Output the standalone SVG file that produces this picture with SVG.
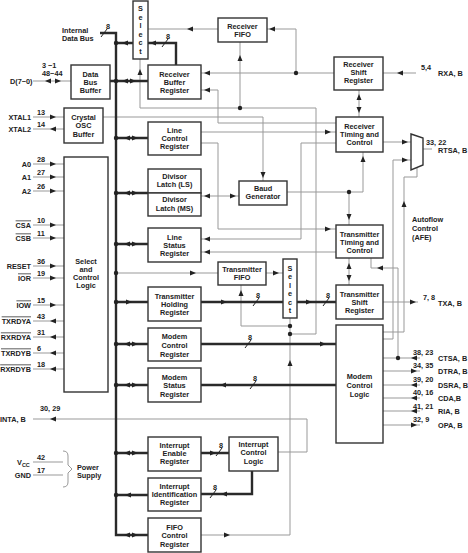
<svg xmlns="http://www.w3.org/2000/svg" width="468" height="553" viewBox="0 0 468 553">
<style>
text{font-family:"Liberation Sans",Arial,sans-serif;font-size:7.3px;font-weight:bold;fill:#222}
.c{text-anchor:middle}
.e{text-anchor:end}
.ol{text-decoration:overline}
.sm{font-size:5.5px}
.box{fill:#fff;stroke:#333;stroke-width:1.4}
.th{fill:none;stroke:#2a2a2a;stroke-width:2.4}
.tn{fill:none;stroke:#999;stroke-width:1}
.sl{fill:none;stroke:#222;stroke-width:1}
.ah{fill:#222}
</style>
<defs>
<polygon id="ar" points="-3,-2.5 3,0 -3,2.5"/>
<polygon id="al" points="3,-2.5 -3,0 3,2.5"/>
<polygon id="au" points="-2.5,3 0,-3 2.5,3"/>
<polygon id="ad" points="-2.5,-3 0,3 2.5,-3"/>
<circle id="dt" r="2.2"/>
</defs>

<g id="connectors">
<!-- thin signal lines -->
<path class="tn" d="M33,117H64M33,129H64M33,81H71"/>
<path class="tn" d="M103,117H263V181"/>
<path class="tn" d="M218,29H148"/>
<path class="tn" d="M334,73H201M296,73V29H267"/>
<path class="tn" d="M336,123H218V90H201"/>
<path class="tn" d="M201,535H290V318M290,334H316V108H140V59M240,108V42M290,326H241V285"/>
<path class="tn" d="M201,132H336"/>
<path class="tn" d="M201,143H218V229H336"/>
<path class="tn" d="M336,143H301V239H201"/>
<path class="tn" d="M336,252H201"/>
<path class="tn" d="M201,196H239"/>
<path class="tn" d="M287,192H363V152M349,192V225"/>
<path class="tn" d="M359,90V117M349,258V285"/>
<path class="tn" d="M383,142H411M423,149H432"/>
<path class="tn" d="M383,339H393V160H411"/>
<path class="tn" d="M383,332H404V177H417V168"/>
<path class="tn" d="M398,358V268H371V258"/>
<path class="tn" d="M383,73H416M383,302H418"/>
<path class="tn" d="M383,358H420M383,371H420M383,385H420M383,398H420M383,411H420M383,425H420"/>
<path class="tn" d="M116,273H218M266,273H283"/>
<path class="tn" d="M278,452H307V419H33"/>
<path class="tn" d="M33,164H64M33,177H64M33,191H64M33,225H64M33,238H64M33,266H64M33,278H64M33,305H64M33,321H64M33,337H64M33,353H64M33,369H64"/>
<path class="tn" d="M33,462H63M33,475H63M63,451Q68,451 68,456V465L72,469L68,473V482Q68,487 63,487"/>

<!-- thick data paths -->
<path class="th" d="M100,33H116V535H148"/>
<path class="th" d="M116,43H133M110,81H148M116,138H148M116,193H148M116,244H148M116,302H148M116,344H148M116,385H148M116,453H148M116,495H148"/>
<path class="th" d="M176,65V43H148"/>
<path class="th" d="M201,302H283M297,302H336M201,344H336M336,385H201M201,453H229M252,471V494H201"/>

<!-- bus width slashes -->
<path class="sl" d="M101,37L107,29M162,47L168,39M253,306L259,298M323,306L329,298M245,348L251,340M250,389L256,381M216,456L222,448M210,498L216,490"/>
<text class="c" x="108" y="29">8</text>
<text class="c" x="168" y="39">8</text>
<text class="c" x="258" y="298">8</text>
<text class="c" x="328" y="298">8</text>
<text class="c" x="250" y="340">8</text>
<text class="c" x="255" y="381">8</text>
<text class="c" x="221" y="448">8</text>
<text class="c" x="215" y="490">8</text>

<!-- dots -->
<g class="ah">
<use href="#dt" x="116" y="43"/><use href="#dt" x="116" y="81"/><use href="#dt" x="116" y="138"/>
<use href="#dt" x="116" y="193"/><use href="#dt" x="116" y="244"/><use href="#dt" x="116" y="273"/>
<use href="#dt" x="116" y="302"/><use href="#dt" x="116" y="344"/><use href="#dt" x="116" y="385"/>
<use href="#dt" x="116" y="453"/><use href="#dt" x="116" y="495"/>
<use href="#dt" x="296" y="73"/><use href="#dt" x="240" y="108"/>
<use href="#dt" x="290" y="326"/><use href="#dt" x="290" y="334"/>
<use href="#dt" x="349" y="192"/><use href="#dt" x="398" y="358"/>
</g>

<!-- arrowheads -->
<g class="ah">
<use href="#al" x="125" y="43"/><use href="#al" x="153" y="43"/>
<use href="#al" x="125" y="81"/><use href="#ar" x="133" y="81"/>
<use href="#al" x="127" y="138"/><use href="#ar" x="135" y="138"/>
<use href="#al" x="127" y="193"/><use href="#ar" x="135" y="193"/>
<use href="#al" x="127" y="244"/><use href="#ar" x="135" y="244"/>
<use href="#ar" x="129" y="302"/>
<use href="#al" x="127" y="344"/><use href="#ar" x="135" y="344"/>
<use href="#al" x="127" y="385"/><use href="#ar" x="135" y="385"/>
<use href="#al" x="127" y="453"/><use href="#ar" x="135" y="453"/>
<use href="#al" x="128" y="495"/>
<use href="#al" x="127" y="535"/><use href="#ar" x="135" y="535"/>
<use href="#ar" x="224" y="302"/><use href="#ar" x="309" y="302"/>
<use href="#ar" x="323" y="344"/><use href="#al" x="223" y="385"/>
<use href="#ar" x="213" y="453"/><use href="#al" x="224" y="494"/>
<use href="#al" x="48" y="81"/><use href="#ar" x="58" y="81"/>
<use href="#ar" x="53" y="117"/><use href="#al" x="53" y="129"/>
<use href="#ad" x="263" y="175"/>
<use href="#al" x="190" y="29"/><use href="#al" x="272" y="29"/>
<use href="#al" x="207" y="73"/><use href="#al" x="207" y="90"/>
<use href="#au" x="140" y="72"/><use href="#au" x="240" y="58"/>
<use href="#au" x="241" y="293"/><use href="#au" x="290" y="363"/>
<use href="#ar" x="227" y="535"/>
<use href="#ar" x="328" y="132"/><use href="#ar" x="328" y="229"/>
<use href="#al" x="207" y="239"/><use href="#al" x="207" y="252"/>
<use href="#al" x="207" y="196"/><use href="#ar" x="233" y="196"/>
<use href="#au" x="363" y="159"/><use href="#ad" x="349" y="217"/>
<use href="#au" x="359" y="97"/><use href="#ad" x="359" y="110"/>
<use href="#au" x="349" y="266"/><use href="#ad" x="349" y="278"/>
<use href="#ar" x="405" y="142"/><use href="#ar" x="405" y="160"/>
<use href="#au" x="404" y="204"/><use href="#al" x="380" y="268"/>
<use href="#al" x="400" y="73"/><use href="#ar" x="413" y="302"/>
<use href="#al" x="414" y="358"/><use href="#ar" x="414" y="371"/>
<use href="#al" x="414" y="385"/><use href="#al" x="414" y="398"/>
<use href="#al" x="414" y="411"/><use href="#ar" x="414" y="425"/>
<use href="#ar" x="193" y="273"/><use href="#ar" x="276" y="273"/>
<use href="#al" x="53" y="419"/>
<use href="#ar" x="53" y="164"/><use href="#ar" x="53" y="177"/><use href="#ar" x="53" y="191"/>
<use href="#ar" x="53" y="225"/><use href="#ar" x="53" y="238"/><use href="#ar" x="53" y="266"/>
<use href="#ar" x="53" y="278"/><use href="#ar" x="53" y="305"/>
<use href="#al" x="53" y="321"/><use href="#al" x="53" y="337"/><use href="#al" x="53" y="353"/><use href="#al" x="53" y="369"/>
</g>
</g>

<g id="labels">
<text x="62" y="32.5">Internal</text>
<text x="62" y="40.5">Data Bus</text>
<text x="10" y="83.5">D(7−0)</text>
<text x="42" y="68">3 −1</text>
<text x="42" y="76">48−44</text>
<text class="e" x="31" y="119.5">XTAL1</text><text x="37" y="115">13</text>
<text class="e" x="31" y="131.5">XTAL2</text><text x="37" y="127">14</text>
<text class="e" x="31" y="166.5">A0</text><text x="37" y="161.5">28</text>
<text class="e" x="31" y="179.5">A1</text><text x="37" y="174.5">27</text>
<text class="e" x="31" y="193.5">A2</text><text x="37" y="188.5">26</text>
<text class="e ol" x="31" y="227.5">CSA</text><text x="37" y="222.5">10</text>
<text class="e ol" x="31" y="240.5">CSB</text><text x="37" y="235.5">11</text>
<text class="e" x="31" y="268.5">RESET</text><text x="37" y="263.5">36</text>
<text class="e ol" x="31" y="280.5">IOR</text><text x="37" y="275.5">19</text>
<text class="e ol" x="31" y="307.5">IOW</text><text x="37" y="302.5">15</text>
<text class="e ol" x="31" y="323.5">TXRDYA</text><text x="37" y="318.5">43</text>
<text class="e ol" x="31" y="339.5">RXRDYA</text><text x="37" y="334.5">31</text>
<text class="e ol" x="31" y="355.5">TXRDYB</text><text x="37" y="350.5">6</text>
<text class="e ol" x="31" y="371.5">RXRDYB</text><text x="37" y="366.5">18</text>
<text x="40" y="410.5">30, 29</text>
<text x="0" y="422">INTA, B</text>
<text x="17" y="465">V<tspan class="sm" dy="2">CC</tspan></text><text x="37" y="460">42</text>
<text class="e" x="31" y="478">GND</text><text x="37" y="473">17</text>
<text x="77" y="469.5">Power</text>
<text x="77" y="478">Supply</text>
<text x="421" y="69.5">5,4</text><text x="438" y="75.5">RXA, B</text>
<text x="426" y="144.5">33, 22</text><text x="438" y="152.5">RTSA, B</text>
<text x="412" y="221.5">Autoflow</text>
<text x="412" y="230.5">Control</text>
<text x="412" y="239.5">(AFE)</text>
<text x="423" y="300">7, 8</text><text x="438" y="305.5">TXA, B</text>
<text x="413" y="355">38, 23</text><text x="438" y="360.5">CTSA, B</text>
<text x="413" y="368">34, 35</text><text x="438" y="374">DTRA, B</text>
<text x="413" y="381.5">39, 20</text><text x="438" y="387.5">DSRA, B</text>
<text x="413" y="395">40, 16</text><text x="438" y="401">CDA,B</text>
<text x="413" y="408.5">41, 21</text><text x="438" y="414">RIA, B</text>
<text x="413" y="422">32, 9</text><text x="438" y="427.5">OPA, B</text>
</g>

<g id="select-rx"><rect class="box" x="133" y="1" width="15" height="58"/>
<text class="c" x="140.5" y="11">S</text><text class="c" x="140.5" y="19.5">e</text><text class="c" x="140.5" y="28">l</text><text class="c" x="140.5" y="36.5">e</text><text class="c" x="140.5" y="45">c</text><text class="c" x="140.5" y="53.5">t</text></g>
<g id="receiver-fifo"><rect class="box" x="218" y="18" width="49" height="24"/>
<text class="c" x="242.5" y="28.5">Receiver</text><text class="c" x="242.5" y="37">FIFO</text></g>
<g id="data-bus-buffer"><rect class="box" x="71" y="65" width="39" height="34"/>
<text class="c" x="90.5" y="76.5">Data</text><text class="c" x="90.5" y="84.5">Bus</text><text class="c" x="90.5" y="92.5">Buffer</text></g>
<g id="receiver-buffer-register"><rect class="box" x="148" y="65" width="53" height="34"/>
<text class="c" x="174.5" y="76.5">Receiver</text><text class="c" x="174.5" y="84.5">Buffer</text><text class="c" x="174.5" y="92.5">Register</text></g>
<g id="receiver-shift-register"><rect class="box" x="334" y="57" width="49" height="33"/>
<text class="c" x="358.5" y="66.5">Receiver</text><text class="c" x="358.5" y="74.5">Shift</text><text class="c" x="358.5" y="83">Register</text></g>
<g id="crystal-osc-buffer"><rect class="box" x="64" y="108" width="39" height="35"/>
<text class="c" x="83.5" y="119.5">Crystal</text><text class="c" x="83.5" y="128">OSC</text><text class="c" x="83.5" y="136.5">Buffer</text></g>
<g id="line-control-register"><rect class="box" x="148" y="122" width="53" height="33"/>
<text class="c" x="174.5" y="133">Line</text><text class="c" x="174.5" y="141">Control</text><text class="c" x="174.5" y="149">Register</text></g>
<g id="receiver-timing-control"><rect class="box" x="336" y="117" width="47" height="35"/>
<text class="c" x="359.5" y="128.5">Receiver</text><text class="c" x="359.5" y="136.5">Timing and</text><text class="c" x="359.5" y="144.5">Control</text></g>
<g id="divisor-latch"><rect class="box" x="148" y="169" width="53" height="24"/><rect class="box" x="148" y="193" width="53" height="23"/>
<text class="c" x="174.5" y="178.5">Divisor</text><text class="c" x="174.5" y="187">Latch (LS)</text>
<text class="c" x="174.5" y="202">Divisor</text><text class="c" x="174.5" y="210.5">Latch (MS)</text></g>
<g id="baud-generator"><rect class="box" x="239" y="181" width="48" height="24"/>
<text class="c" x="263" y="190.5">Baud</text><text class="c" x="263" y="199">Generator</text></g>
<g id="line-status-register"><rect class="box" x="148" y="228" width="53" height="34"/>
<text class="c" x="174.5" y="239.5">Line</text><text class="c" x="174.5" y="247.5">Status</text><text class="c" x="174.5" y="255.5">Register</text></g>
<g id="transmitter-timing-control"><rect class="box" x="336" y="225" width="47" height="33"/>
<text class="c" x="359.5" y="236.5">Transmitter</text><text class="c" x="359.5" y="244.5">Timing and</text><text class="c" x="359.5" y="252.5">Control</text></g>
<g id="select-control-logic"><rect class="box" x="64" y="157" width="44" height="235"/>
<text class="c" x="86" y="263.5">Select</text><text class="c" x="86" y="271.5">and</text><text class="c" x="86" y="279.5">Control</text><text class="c" x="86" y="287.5">Logic</text></g>
<g id="transmitter-fifo"><rect class="box" x="218" y="262" width="48" height="23"/>
<text class="c" x="242" y="271.5">Transmitter</text><text class="c" x="242" y="280">FIFO</text></g>
<g id="select-tx"><rect class="box" x="283" y="259" width="14" height="59"/>
<text class="c" x="290" y="270.5">S</text><text class="c" x="290" y="279">e</text><text class="c" x="290" y="287.5">l</text><text class="c" x="290" y="296">e</text><text class="c" x="290" y="304.5">c</text><text class="c" x="290" y="313">t</text></g>
<g id="transmitter-holding-register"><rect class="box" x="148" y="287" width="53" height="34"/>
<text class="c" x="174.5" y="298.5">Transmitter</text><text class="c" x="174.5" y="306.5">Holding</text><text class="c" x="174.5" y="314.5">Register</text></g>
<g id="transmitter-shift-register"><rect class="box" x="336" y="285" width="47" height="34"/>
<text class="c" x="359.5" y="296.5">Transmitter</text><text class="c" x="359.5" y="304.5">Shift</text><text class="c" x="359.5" y="313">Register</text></g>
<g id="modem-control-register"><rect class="box" x="148" y="328" width="53" height="33"/>
<text class="c" x="174.5" y="339">Modem</text><text class="c" x="174.5" y="348">Control</text><text class="c" x="174.5" y="356.5">Register</text></g>
<g id="modem-control-logic"><rect class="box" x="336" y="325" width="47" height="118"/>
<text class="c" x="359.5" y="378.5">Modem</text><text class="c" x="359.5" y="387.5">Control</text><text class="c" x="359.5" y="396.5">Logic</text></g>
<g id="modem-status-register"><rect class="box" x="148" y="368" width="53" height="34"/>
<text class="c" x="174.5" y="379.5">Modem</text><text class="c" x="174.5" y="388">Status</text><text class="c" x="174.5" y="396.5">Register</text></g>
<g id="interrupt-enable-register"><rect class="box" x="148" y="437" width="53" height="34"/>
<text class="c" x="174.5" y="447.5">Interrupt</text><text class="c" x="174.5" y="455.5">Enable</text><text class="c" x="174.5" y="464">Register</text></g>
<g id="interrupt-control-logic"><rect class="box" x="229" y="437" width="49" height="34"/>
<text class="c" x="253.5" y="446.5">Interrupt</text><text class="c" x="253.5" y="455">Control</text><text class="c" x="253.5" y="463.5">Logic</text></g>
<g id="interrupt-identification-register"><rect class="box" x="148" y="478" width="53" height="33"/>
<text class="c" x="174.5" y="488.5">Interrupt</text><text class="c" x="174.5" y="496.5">Identification</text><text class="c" x="174.5" y="505">Register</text></g>
<g id="fifo-control-register"><rect class="box" x="148" y="518" width="53" height="34"/>
<text class="c" x="174.5" y="529.5">FIFO</text><text class="c" x="174.5" y="538">Control</text><text class="c" x="174.5" y="546.5">Register</text></g>
<g id="rts-mux"><polygon class="box" points="411,134 423,138 423,165 411,170"/></g>
</svg>
